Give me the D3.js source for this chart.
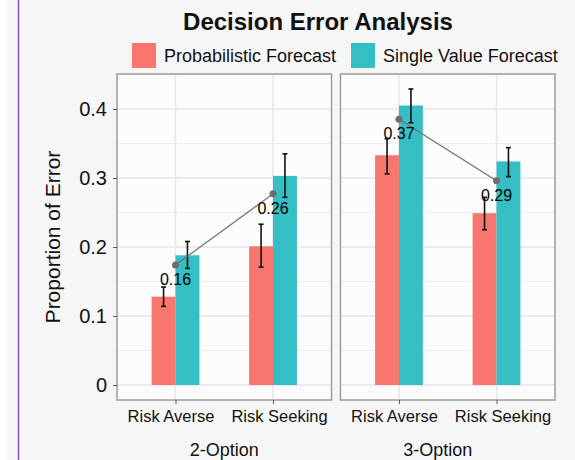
<!DOCTYPE html>
<html>
<head>
<meta charset="utf-8">
<script src="https://cdn.jsdelivr.net/npm/d3@7"></script>
<style>
  body { margin: 0; background: #f6f6f6; }
  svg { display: block; font-family: "Liberation Sans", Arial, sans-serif; }
</style>
</head>
<body>
<div id="chart"></div>
<script>
// data
const groups = ["2-Option", "3-Option"];
const conditions = ["Risk Averse", "Risk Seeking"];
const forecasts = ["Probabilistic Forecast", "Single Value Forecast"];
const colors = ["#F8766D", "#35BFC4"];

// one entry per group x condition, in order 2-Option RA, RS, 3-Option RA, RS
const probMean = [0.128, 0.201, 0.333, 0.249];
const probLow = [0.114, 0.171, 0.306, 0.225];
const probHigh = [0.142, 0.233, 0.357, 0.272];
const singleMean = [0.188, 0.303, 0.405, 0.324];
const singleLow = [0.169, 0.272, 0.380, 0.302];
const singleHigh = [0.208, 0.335, 0.429, 0.344];
const pointValues = [0.174, 0.277, 0.385, 0.296];
const pointLabels = ["0.16", "0.26", "0.37", "0.29"];
const yTicks = [0, 0.1, 0.2, 0.3, 0.4];
const yMinor = [0.05, 0.15, 0.25, 0.35, 0.45];

const width = 575, height = 460;
const margin = {top: 74, right: 20, bottom: 60, left: 117};

const svg = d3.select("#chart").append("svg")
    .attr("width", width)
    .attr("height", height);

svg.append("rect").attr("width", width).attr("height", height).attr("fill", "#f6f6f6");
svg.append("rect").attr("width", 7).attr("height", height).attr("fill", "#ffffff");
svg.append("line")
    .attr("x1", 18.5).attr("x2", 18.5).attr("y1", 0).attr("y2", height)
    .attr("stroke", "#8a4bcf").attr("stroke-width", 1.5);

// facet scale
const facet = d3.scaleBand()
    .domain(groups)
    .range([margin.left, width - margin.right])
    .paddingInner(0.04);

const y = d3.scaleLinear()
    .domain([-0.0217, 0.4507])
    .range([height - margin.bottom, margin.top]);

// rows built from the arrays
const rows = [];
groups.forEach((g, gi) => conditions.forEach((c, ci) => {
  const i = gi * 2 + ci;
  rows.push({group: g, cond: c,
    bars: [
      {f: forecasts[0], mean: probMean[i], lo: probLow[i], hi: probHigh[i]},
      {f: forecasts[1], mean: singleMean[i], lo: singleLow[i], hi: singleHigh[i]}
    ],
    point: pointValues[i], label: pointLabels[i]});
}));

const color = d3.scaleOrdinal().domain(forecasts).range(colors);

groups.forEach((g, gi) => {
  const px = facet(g), pw = facet.bandwidth();
  const x = d3.scalePoint().domain(conditions).range([px, px + pw]).padding(0.6);
  const dodge = d3.scaleBand().domain(forecasts).range([-x.step() * 0.245, x.step() * 0.245]);
  const panel = svg.append("g");

  panel.append("rect")
      .attr("x", px).attr("y", margin.top)
      .attr("width", pw).attr("height", y.range()[0] - margin.top)
      .attr("fill", "#fcfcfc");

  // grid
  panel.selectAll(".minor").data(yMinor).join("line")
      .attr("x1", px).attr("x2", px + pw)
      .attr("y1", d => y(d)).attr("y2", d => y(d))
      .attr("stroke", "#efefef").attr("stroke-width", 1);
  panel.selectAll(".major").data(yTicks).join("line")
      .attr("x1", px).attr("x2", px + pw)
      .attr("y1", d => y(d)).attr("y2", d => y(d))
      .attr("stroke", "#e6e6e6").attr("stroke-width", 1.5);
  panel.selectAll(".vgrid").data(conditions).join("line")
      .attr("x1", d => x(d)).attr("x2", d => x(d))
      .attr("y1", margin.top).attr("y2", y.range()[0])
      .attr("stroke", "#e6e6e6").attr("stroke-width", 1.5);

  const data = rows.filter(r => r.group === g);

  // bars
  const cells = panel.selectAll(".cell").data(data).join("g");
  cells.selectAll("rect").data(d => d.bars.map(b => ({...b, cond: d.cond}))).join("rect")
      .attr("x", d => x(d.cond) + dodge(d.f))
      .attr("y", d => y(d.mean))
      .attr("width", dodge.bandwidth())
      .attr("height", d => y(0) - y(d.mean))
      .attr("fill", d => color(d.f));

  // error bars
  const eb = cells.selectAll(".eb").data(d => d.bars.map(b => ({...b, cond: d.cond}))).join("g");
  const ex = d => x(d.cond) + dodge(d.f) + dodge.bandwidth() / 2;
  eb.append("line")
      .attr("x1", ex).attr("x2", ex)
      .attr("y1", d => y(d.lo)).attr("y2", d => y(d.hi))
      .attr("stroke", "#111").attr("stroke-width", 1.6);
  eb.append("line")
      .attr("x1", d => ex(d) - 2.5).attr("x2", d => ex(d) + 2.5)
      .attr("y1", d => y(d.lo)).attr("y2", d => y(d.lo))
      .attr("stroke", "#111").attr("stroke-width", 1.6);
  eb.append("line")
      .attr("x1", d => ex(d) - 2.5).attr("x2", d => ex(d) + 2.5)
      .attr("y1", d => y(d.hi)).attr("y2", d => y(d.hi))
      .attr("stroke", "#111").attr("stroke-width", 1.6);

  // mean line and points
  panel.append("path")
      .datum(data)
      .attr("fill", "none")
      .attr("stroke", "#6e6e6e")
      .attr("stroke-width", 1.2)
      .attr("d", d3.line().x(d => x(d.cond)).y(d => y(d.point)));
  panel.selectAll(".pt").data(data).join("circle")
      .attr("cx", d => x(d.cond)).attr("cy", d => y(d.point))
      .attr("r", 3.5).attr("fill", "#6e6e6e");
  panel.selectAll(".lbl").data(data).join("text")
      .attr("x", d => x(d.cond)).attr("y", d => y(d.point) + 20)
      .attr("text-anchor", "middle")
      .attr("font-size", 16)
      .attr("fill", "#000")
      .text(d => d.label);

  // border
  panel.append("rect")
      .attr("x", px).attr("y", margin.top)
      .attr("width", pw).attr("height", y.range()[0] - margin.top)
      .attr("fill", "none").attr("stroke", "#9d9d9d").attr("stroke-width", 1.5);

  // x axis
  const xa = svg.append("g")
      .attr("transform", `translate(0,${y.range()[0]})`)
      .call(d3.axisBottom(x).tickSize(4).tickPadding(6));
  xa.select(".domain").remove();
  xa.selectAll(".tick line").attr("stroke", "#555");
  xa.selectAll(".tick text")
      .attr("font-size", 16.5).attr("fill", "#111")
      .attr("font-family", "Liberation Sans, Arial, sans-serif")
      .attr("dx", (d, i) => i === 0 ? -5 : 6);

  // facet label
  svg.append("text")
      .attr("x", px + pw / 2 + (gi === 0 ? 0 : -10))
      .attr("y", 456)
      .attr("text-anchor", "middle")
      .attr("font-size", 18)
      .attr("fill", "#111")
      .text(g);
});

// y axis
const ya = svg.append("g")
    .attr("transform", `translate(${margin.left},0)`)
    .call(d3.axisLeft(y).tickValues(yTicks).tickSize(4).tickPadding(6)
      .tickFormat(d => d === 0 ? "0" : d3.format(".1f")(d)));
ya.select(".domain").remove();
ya.selectAll(".tick line").attr("stroke", "#555");
ya.selectAll(".tick text")
    .attr("font-size", 20).attr("fill", "#111")
    .attr("font-family", "Liberation Sans, Arial, sans-serif");

svg.append("text")
    .attr("transform", `translate(60,${(margin.top + y.range()[0]) / 2}) rotate(-90)`)
    .attr("text-anchor", "middle")
    .attr("font-size", 21)
    .attr("fill", "#111")
    .text("Proportion of Error");

// title
svg.append("text")
    .attr("x", 318).attr("y", 30)
    .attr("text-anchor", "middle")
    .attr("font-size", 24)
    .attr("font-weight", "bold")
    .attr("fill", "#111")
    .text("Decision Error Analysis");

// legend
const legend = svg.append("g");
const legendX = [132, 351];
forecasts.forEach((f, i) => {
  legend.append("rect")
      .attr("x", legendX[i]).attr("y", 43)
      .attr("width", 24).attr("height", 25)
      .attr("fill", color(f));
  legend.append("text")
      .attr("x", legendX[i] + 32).attr("y", 62)
      .attr("font-size", 18)
      .attr("fill", "#111")
      .text(f);
});
</script>
</body>
</html>
